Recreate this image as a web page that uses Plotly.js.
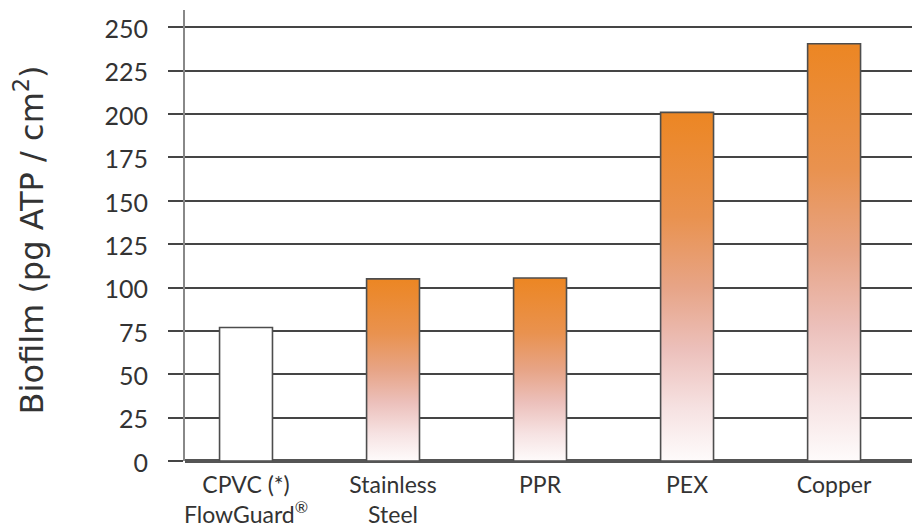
<!DOCTYPE html>
<html>
<head>
<meta charset="utf-8">
<script src="https://cdn.plot.ly/plotly-3.0.1.min.js"></script>
<style>html,body{margin:0;padding:0;background:#fff;}#chart{width:912px;height:531px;}</style>
</head>
<body>
<div id="chart"></div>
<script>
const categories = ["CPVC (*)<br>FlowGuard<sup>®</sup>", "Stainless<br>Steel", "PPR", "PEX", "Copper"];
const biofilm = [77, 105, 105.5, 201, 240.5];
const yTicks = [0, 25, 50, 75, 100, 125, 150, 175, 200, 225, 250];
const yTitle = "Biofilm (pg ATP / cm<sup>2</sup>)";

const FONT = "Lato, 'Open Sans', sans-serif";
const TITLE_FONT = "'DejaVu Sans', 'Open Sans', sans-serif";
const TXT = "#333333";

const trace = {
  type: "bar",
  x: categories,
  y: biofilm,
  width: 0.36,
  marker: {
    color: biofilm.map((v, i) => i === 0 ? "#ffffff" : "#e98a35"),
    line: {color: "#4d4d4d", width: 1.6}
  },
  hoverinfo: "none"
};

const layout = {
  width: 912, height: 531,
  margin: {l: 185, r: 0, t: 10, b: 70},
  paper_bgcolor: "#ffffff", plot_bgcolor: "#ffffff",
  showlegend: false,
  font: {family: FONT, color: TXT},
  xaxis: {
    type: "category",
    range: [-0.415, 4.53],
    showgrid: false, zeroline: false, showline: false,
    ticks: "",
    ticklabelstandoff: 8,
    tickfont: {family: FONT, size: 23, color: TXT}
  },
  yaxis: {
    range: [0, 260],
    tickvals: yTicks,
    ticktext: yTicks.map(String),
    showgrid: true, gridcolor: "#454545", gridwidth: 2,
    zeroline: true, zerolinecolor: "#555555", zerolinewidth: 4,
    showline: true, linecolor: "#888888", linewidth: 2,
    ticks: "outside", ticklen: 15, tickwidth: 2, tickcolor: "#454545",
    ticklabelstandoff: 15,
    ticklabelshift: 2,
    tickfont: {family: FONT, size: 25, color: TXT}
  },
  annotations: [{
    text: yTitle,
    xref: "paper", yref: "paper",
    x: -0.214, y: 0.49,
    xanchor: "center", yanchor: "middle",
    textangle: -90, showarrow: false,
    font: {family: TITLE_FONT, size: 32, color: TXT}
  }]
};

Plotly.newPlot("chart", [trace], layout, {staticPlot: true}).then(function (gd) {
  const svg = gd.querySelector(".main-svg");
  const ns = "http://www.w3.org/2000/svg";
  let defs = svg.querySelector("defs");
  if (!defs) { defs = document.createElementNS(ns, "defs"); svg.insertBefore(defs, svg.firstChild); }
  const grad = document.createElementNS(ns, "linearGradient");
  grad.setAttribute("id", "orangeFade");
  grad.setAttribute("x1", "0"); grad.setAttribute("y1", "0");
  grad.setAttribute("x2", "0"); grad.setAttribute("y2", "1");
  const stops = [[0, "#ec8623"], [0.3, "#e9924f"], [0.5, "#e7a486"], [0.68, "#ecc0bb"], [0.85, "#f6e2e2"], [1, "#fefbfb"]];
  stops.forEach(function (s) {
    const st = document.createElementNS(ns, "stop");
    st.setAttribute("offset", s[0]);
    st.setAttribute("stop-color", s[1]);
    grad.appendChild(st);
  });
  defs.appendChild(grad);
  const paths = gd.querySelectorAll(".trace.bars .point path");
  paths.forEach(function (p, i) {
    if (i > 0) p.style.fill = "url(#orangeFade)";
  });
});
</script>
</body>
</html>
